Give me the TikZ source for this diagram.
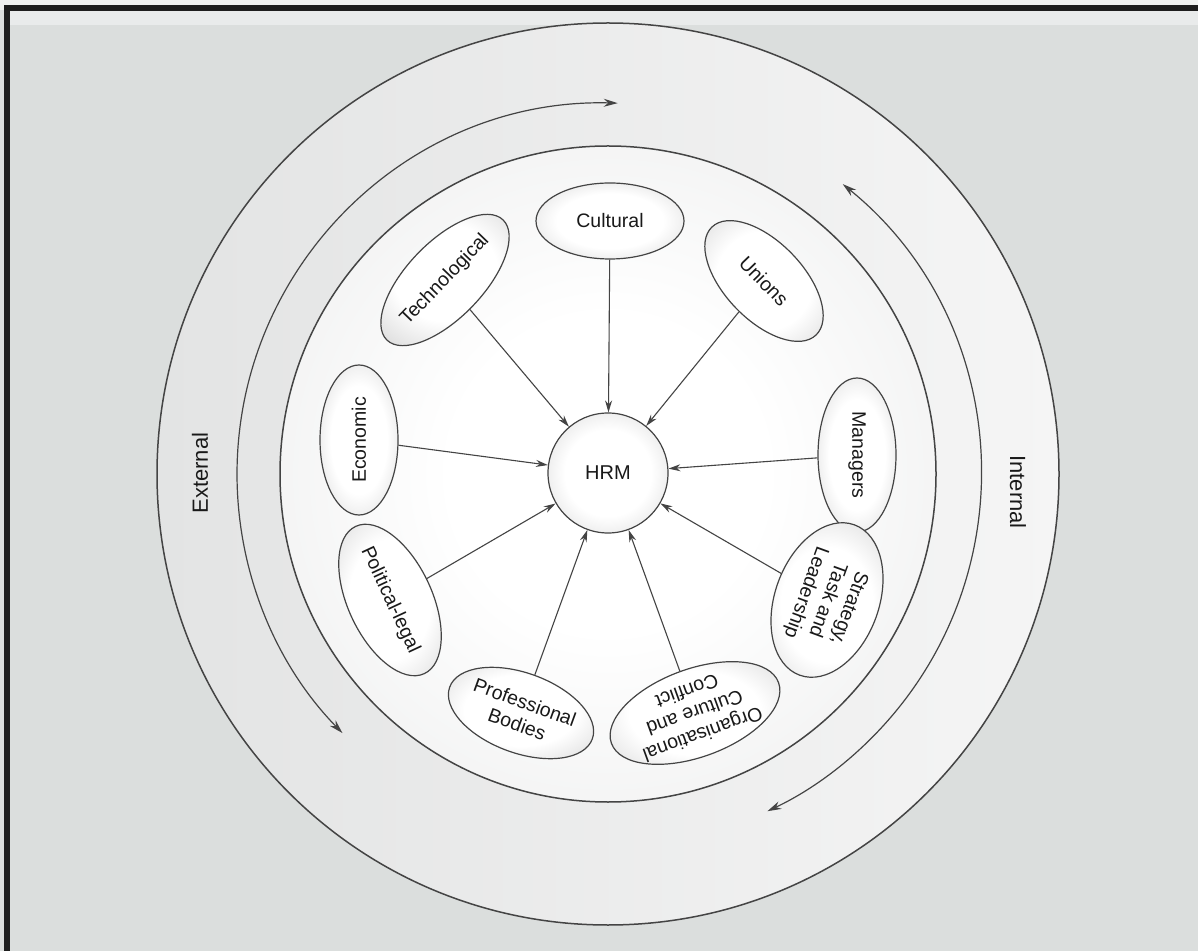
\documentclass[tikz,border=0pt]{standalone}
\usepackage{fontspec}
\setmainfont{Liberation Sans}
\usetikzlibrary{shapes.geometric,arrows.meta}
\definecolor{bg}{HTML}{DBDEDD}
\definecolor{framedark}{HTML}{1E1E1E}
\definecolor{linegray}{HTML}{444444}
\definecolor{ellgray}{HTML}{B8B8B8}
\definecolor{outL}{HTML}{E3E4E4}
\definecolor{outR}{HTML}{F5F5F5}
\definecolor{inEdge}{HTML}{E0E1E1}
\pgfdeclareradialshading{ellshade}{\pgfpoint{0bp}{0bp}}{color(0bp)=(white); color(18bp)=(white); color(50bp)=(ellgray); color(75bp)=(ellgray)}
\pgfdeclareradialshading{diskshade}{\pgfpoint{0bp}{0bp}}{color(0bp)=(white); color(12bp)=(white); color(50bp)=(inEdge); color(75bp)=(inEdge)}
\begin{document}
\begin{tikzpicture}[x=1pt,y=1pt,
  sat/.style={ellipse, draw=linegray, line width=1.2pt, inner sep=0pt, shading=ellshade, align=center, text=black!90, font=\fontsize{19.5}{23}\selectfont},
  conn/.style={draw=linegray, line width=1.1pt, -{Stealth[length=12pt,width=7pt]}},
  ring/.style={draw=linegray, line width=1.5pt},
  flow/.style={draw=linegray, line width=1.2pt, {Stealth[length=14pt,width=8pt]}-{Stealth[length=14pt,width=8pt]}},
  side/.style={font=\fontsize{22}{24}\selectfont, text=black!90}
]
\useasboundingbox (0,0) rectangle (1198,951);
% background and frame
\fill[bg] (0,0) rectangle (1198,951);
\fill[white!60!bg] (0,941) rectangle (1198,951);
\fill[white!40!bg] (10,926) rectangle (1198,940);
\fill[framedark] (4,0) rectangle (10,946);
\fill[framedark] (4,940) rectangle (1198,946);

\coordinate (C) at (608,477);
% outer disc
\path[ring, left color=outL, right color=outR] (C) circle[radius=451];
% inner disc
\path[ring, shading=diskshade] (C) circle[radius=328];

% circulating arrows
\draw[flow] ([shift={(88.5:371)}]C) arc[start angle=88.5, end angle=224.3, radius=371];
\draw[flow] ([shift={(51:373)}]C) arc[start angle=51, end angle=-64.7, radius=373];

% side labels
\node[side, rotate=90] (ext) at (200,478) {External};
\node[side, rotate=-90] (int) at (1018,459) {Internal};

% centre
\node[circle, draw=linegray, line width=1.2pt, minimum size=120pt, inner sep=0pt, shading=ellshade, text=black!90, font=\fontsize{20}{22}\selectfont] (hrm) at (608,478) {HRM};

% satellites
\node[sat, minimum width=148pt, minimum height=76pt] (cult) at (610,730) {Cultural};
\node[sat, minimum width=150pt, minimum height=76pt, rotate=46] (tech) at (445,671) {Technological};
\node[sat, minimum width=150pt, minimum height=78pt, rotate=-46] (unio) at (764,670) {Unions};
\node[sat, minimum width=150pt, minimum height=78pt, rotate=90] (econ) at (359,511) {Economic};
\node[sat, minimum width=154pt, minimum height=78pt, rotate=-90] (mana) at (857,496) {Managers};
\node[sat, minimum width=160pt, minimum height=104pt, rotate=-110] (stra) at (827,351) {Strategy,\\Task and\\Leadership};
\node[sat, minimum width=172pt, minimum height=88pt, rotate=200] (orga) at (695,238) {Organisational\\Culture and\\Conflict};
\node[sat, minimum width=150pt, minimum height=80pt, rotate=-20] (prof) at (521,238) {Professional\\Bodies};
\node[sat, minimum width=148pt, minimum height=84pt, rotate=-65] (poli) at (390,351) {Political-legal};

% connectors
\foreach \s in {cult,tech,unio,econ,mana,stra,orga,prof,poli}
  \draw[conn] (\s) -- (hrm);
\end{tikzpicture}
\end{document}
